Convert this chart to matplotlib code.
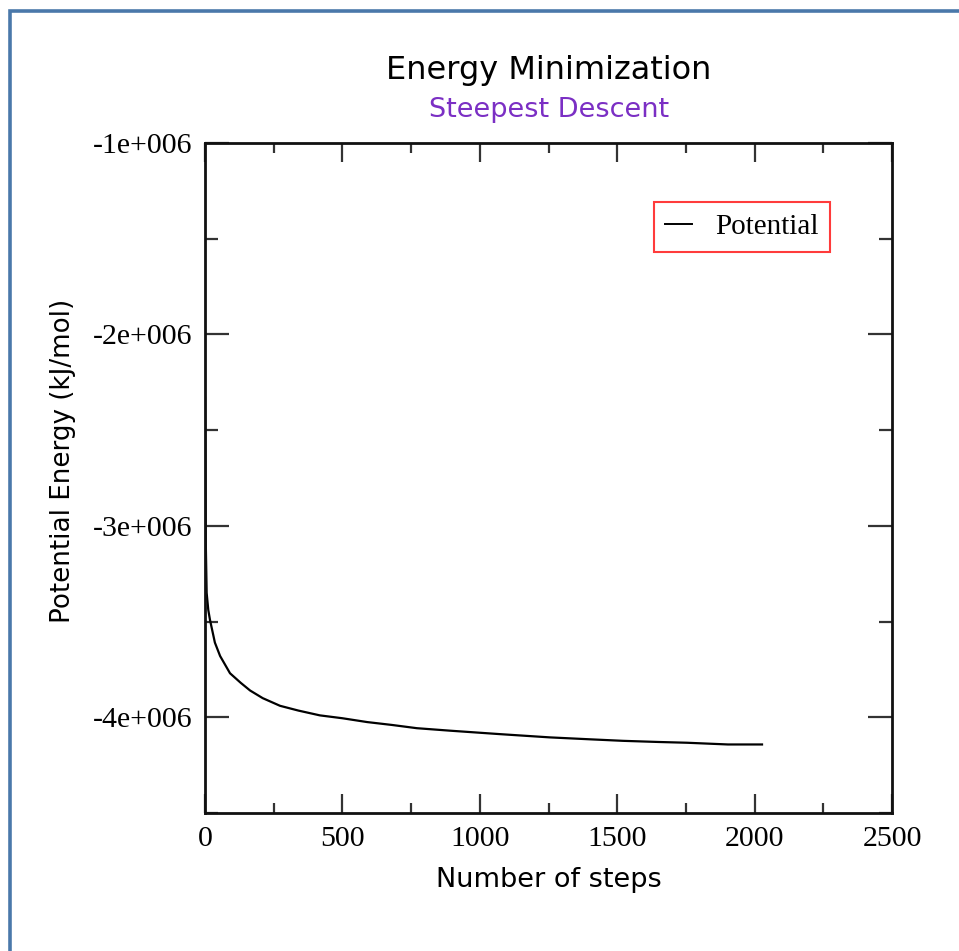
import matplotlib
matplotlib.use("Agg")
import matplotlib.pyplot as plt
from matplotlib.lines import Line2D
from matplotlib.ticker import FuncFormatter, MultipleLocator

# ---- data ----
steps = [0, 3, 6, 12, 18, 36, 55, 91, 130, 164, 210, 273, 340, 418, 500,
         590, 680, 771, 892, 1073, 1255, 1400, 1521, 1650, 1754, 1903, 2027]
energy = [-2.33e6, -3.10e6, -3.35e6, -3.44e6, -3.49e6, -3.61e6, -3.68e6,
          -3.77e6, -3.82e6, -3.86e6, -3.90e6, -3.94e6, -3.965e6, -3.99e6,
          -4.005e6, -4.025e6, -4.04e6, -4.057e6, -4.070e6, -4.088e6,
          -4.105e6, -4.115e6, -4.123e6, -4.129e6, -4.133e6, -4.142e6, -4.142e6]
series_label = "Potential"
title = "Energy Minimization"
subtitle = "Steepest Descent"
xlabel = "Number of steps"
ylabel = "Potential Energy (kJ/mol)"
xticks = [0, 500, 1000, 1500, 2000, 2500]
yticks = [-4e6, -3e6, -2e6, -1e6]

W, H = 959, 951
fig = plt.figure(figsize=(W / 100, H / 100), dpi=100)
fig.patch.set_facecolor("white")

ax = fig.add_axes([205 / W, 1 - 813 / H, (892 - 205) / W, (813 - 143) / H])
ax.plot(steps, energy, color="black", lw=1.6, label=series_label)

ax.set_xlim(0, 2500)
ax.set_ylim(-4.5e6, -1e6)
ax.set_xticks(xticks)
ax.set_yticks(yticks)
ax.xaxis.set_minor_locator(MultipleLocator(250))
ax.yaxis.set_minor_locator(MultipleLocator(5e5))


def yfmt(v, pos):
    m = int(round(v / 1e6))
    return f"{m}e+006"


ax.yaxis.set_major_formatter(FuncFormatter(yfmt))
ax.xaxis.set_major_formatter(FuncFormatter(lambda v, p: f"{int(v)}"))

serif = ["Liberation Serif", "DejaVu Serif"]
for lab in ax.get_xticklabels() + ax.get_yticklabels():
    lab.set_fontfamily(serif)
    lab.set_fontsize(21.5)

ax.tick_params(which="both", direction="in", top=True, right=True,
               color="#333333", width=1.6)
ax.tick_params(axis="x", which="major", length=14, pad=9)
ax.tick_params(axis="x", which="minor", length=7.5)
ax.tick_params(axis="y", which="major", length=17, pad=9)
ax.tick_params(axis="y", which="minor", length=9.5)
for sp in ax.spines.values():
    sp.set_linewidth(2)
    sp.set_color("#111111")

leg = ax.legend(loc="upper right", bbox_to_anchor=(0.910, 0.912),
                borderaxespad=0, fancybox=False, framealpha=1,
                prop={"family": serif, "size": 21}, handlelength=0.9,
                handletextpad=0.8, borderpad=0.4)
leg.get_frame().set_edgecolor("#ff3b3b")
leg.get_frame().set_linewidth(1.5)
for l in leg.get_lines():
    l.set_linewidth(1.4)

fig.text(549 / W, 1 - 70 / H, title, ha="center", va="center",
         fontsize=23, color="black", family="DejaVu Sans")
fig.text(549 / W, 1 - 110 / H, subtitle, ha="center", va="center",
         fontsize=19.5, color="#7b2fc4", family="DejaVu Sans")
fig.text(549 / W, 1 - 880 / H, xlabel, ha="center", va="center",
         fontsize=19.5, family="DejaVu Sans")
fig.text(63 / W, 1 - 461 / H, ylabel, ha="center", va="center",
         rotation=90, fontsize=18.8, family="DejaVu Sans")

# page border (left and top only)
bx, by = 9.5 / W, 1 - 11 / H
fig.add_artist(Line2D([bx, bx, 1.0], [0.0, by, by], transform=fig.transFigure,
                      color="#4a78aa", lw=2.6, solid_joinstyle="miter"))

fig.savefig("out.png", dpi=100, facecolor="white")
